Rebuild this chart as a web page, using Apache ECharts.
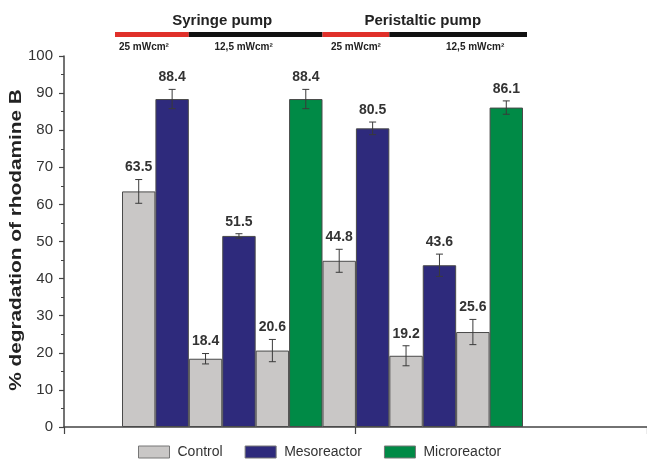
<!DOCTYPE html>
<html>
<head>
<meta charset="utf-8">
<script src="https://cdn.jsdelivr.net/npm/echarts@6/dist/echarts.min.js"></script>
<style>
  html, body { margin: 0; padding: 0; background: #ffffff; }
  #chart { width: 647px; height: 459px; }
</style>
</head>
<body>
<div id="chart"></div>
<script>
// Twelve bars, left to right: pump / irradiance / reactor
const categories = [
  'Syringe 25 Control', 'Syringe 25 Mesoreactor',
  'Syringe 12.5 Control A', 'Syringe 12.5 Mesoreactor',
  'Syringe 12.5 Control B', 'Syringe 12.5 Microreactor',
  'Peristaltic 25 Control', 'Peristaltic 25 Mesoreactor',
  'Peristaltic 12.5 Control A', 'Peristaltic 12.5 Mesoreactor',
  'Peristaltic 12.5 Control B', 'Peristaltic 12.5 Microreactor'
];

// % degradation of rhodamine B per bar (null = no bar of that kind)
const controlValues = [63.5, null, 18.4, null, 20.6, null, 44.8, null, 19.2, null, 25.6, null];
const mesoValues    = [null, 88.4, null, 51.5, null, null, null, 80.5, null, 43.6, null, null];
const microValues   = [null, null, null, null, null, 88.4, null, null, null, null, null, 86.1];

// Standard deviation for each bar
const errorValues = [3.2, 2.6, 1.4, 0.6, 3.0, 2.6, 3.1, 1.7, 2.7, 3.0, 3.4, 1.8];

// Value axis
const yMin = 0, yMax = 100, yStep = 10;

// Pump groups (bar index ranges)
const pumpNames = ['Syringe pump', 'Peristaltic pump'];
const pumpFrom  = [0, 6];
const pumpTo    = [5, 11];

// Irradiance groups (bar index ranges)
const irradianceLabels = ['25 mWcm\u00B2', '12,5 mWcm\u00B2', '25 mWcm\u00B2', '12,5 mWcm\u00B2'];
const irradianceFrom   = [0, 2, 6, 8];
const irradianceTo     = [1, 5, 7, 11];

const seriesNames = ['Control', 'Mesoreactor', 'Microreactor'];

// ---- styling ----
const FONT = '"Liberation Sans", Arial, sans-serif';
const COLORS = { control: '#c9c7c6', meso: '#2e2a7c', micro: '#008a46' };
const BAND_COLORS = { '25 mWcm\u00B2': '#e0302a', '12,5 mWcm\u00B2': '#111111' };
const barBorder = '#4a4a4a';

const frameGrid = { left: 64, right: 0, top: 56, bottom: 32 };
const barGrid   = { left: 122, right: 124, top: 56, bottom: 32 };

const barValue = categories.map((c, i) =>
  controlValues[i] != null ? controlValues[i] : (mesoValues[i] != null ? mesoValues[i] : microValues[i]));

const chart = echarts.init(document.getElementById('chart'), null, { renderer: 'canvas' });

function barSeries(name, values, color) {
  return {
    name: name,
    type: 'bar',
    xAxisIndex: 1,
    yAxisIndex: 1,
    stack: 'all',
    barWidth: '100%',
    data: values.map(v => (v == null ? '-' : v)),
    itemStyle: { color: color, borderColor: barBorder, borderWidth: 1 },
    z: 2
  };
}

const option = {
  animation: false,
  backgroundColor: '#ffffff',
  grid: [
    Object.assign({ containLabel: false }, frameGrid),
    Object.assign({ containLabel: false }, barGrid)
  ],
  xAxis: [
    {
      type: 'value', gridIndex: 0, min: 0, max: 2, interval: 1,
      axisLine: { show: true, lineStyle: { color: '#444', width: 1.5 } },
      axisTick: { show: true, length: 7, lineStyle: { color: '#444', width: 1.2 } },
      axisLabel: { show: false },
      splitLine: { show: false }
    },
    {
      type: 'category', gridIndex: 1, data: categories, boundaryGap: true,
      axisLine: { show: false }, axisTick: { show: false },
      axisLabel: { show: false }, splitLine: { show: false }
    }
  ],
  yAxis: [
    {
      type: 'value', gridIndex: 0, min: yMin, max: yMax, interval: yStep,
      axisLine: { show: true, lineStyle: { color: '#444', width: 1.5 } },
      axisTick: { show: true, length: 5, lineStyle: { color: '#444', width: 1.2 } },
      minorTick: { show: true, splitNumber: 2, length: 3, lineStyle: { color: '#444', width: 1 } },
      axisLabel: { color: '#333', fontSize: 15, fontFamily: FONT, margin: 11 },
      splitLine: { show: false }
    },
    {
      type: 'value', gridIndex: 1, min: yMin, max: yMax, interval: yStep,
      show: false, splitLine: { show: false }
    }
  ],
  legend: {
    data: seriesNames,
    left: 138,
    top: 445,
    itemWidth: 31,
    itemHeight: 12,
    itemGap: 22,
    icon: 'rect',
    padding: 0,
    itemStyle: { borderColor: '#777', borderWidth: 1 },
    textStyle: { color: '#333', fontSize: 14, fontFamily: FONT, padding: [0, 0, 0, 3] }
  },
  graphic: [
    {
      type: 'text',
      x: 17, y: 240,
      rotation: Math.PI / 2,
      scaleX: 1.3,
      style: {
        text: '% degradation of rhodamine B',
        font: 'bold 16px ' + FONT,
        fill: '#222',
        align: 'center',
        verticalAlign: 'middle'
      }
    }
  ],
  series: [
    barSeries(seriesNames[0], controlValues, COLORS.control),
    barSeries(seriesNames[1], mesoValues, COLORS.meso),
    barSeries(seriesNames[2], microValues, COLORS.micro),
    {
      // error bars with the value written above each one
      name: 'error',
      type: 'custom',
      xAxisIndex: 1,
      yAxisIndex: 1,
      z: 5,
      silent: true,
      data: categories.map((c, i) => [i, barValue[i], errorValues[i]]),
      renderItem: function (params, api) {
        const idx = api.value(0), val = api.value(1), err = api.value(2);
        const x = api.coord([idx, val])[0];
        const yTop = api.coord([idx, val + err])[1];
        const yBot = api.coord([idx, val - err])[1];
        const cap = 3.5;
        const ls = { stroke: '#3a3a3a', lineWidth: 1 };
        return {
          type: 'group',
          children: [
            { type: 'line', shape: { x1: x, y1: yTop, x2: x, y2: yBot }, style: ls },
            { type: 'line', shape: { x1: x - cap, y1: yTop, x2: x + cap, y2: yTop }, style: ls },
            { type: 'line', shape: { x1: x - cap, y1: yBot, x2: x + cap, y2: yBot }, style: ls },
            {
              type: 'text', x: x, y: yTop - 5,
              style: {
                text: val.toFixed(1), fill: '#333', font: 'bold 14px ' + FONT,
                align: 'center', verticalAlign: 'bottom'
              }
            }
          ]
        };
      }
    },
    {
      // irradiance band above the plot
      name: 'irradiance',
      type: 'custom',
      xAxisIndex: 1,
      yAxisIndex: 1,
      silent: true,
      clip: false,
      data: irradianceFrom.map((f, i) => [f, irradianceTo[i], i]),
      renderItem: function (params, api) {
        const i = api.value(2);
        const bw = api.size([1, 0])[0];
        let x0 = api.coord([api.value(0), 0])[0] - bw / 2;
        let x1 = api.coord([api.value(1), 0])[0] + bw / 2;
        if (i === 0) x0 -= 7;
        if (i === irradianceFrom.length - 1) x1 += 4;
        const top = params.coordSys.y;
        const labelShift = [-8, -12, 0, 17][i];
        const label = irradianceLabels[i];
        return {
          type: 'group',
          children: [
            { type: 'rect', shape: { x: x0, y: top - 24, width: x1 - x0, height: 5 },
              style: { fill: BAND_COLORS[label] } },
            { type: 'text', x: (x0 + x1) / 2 + labelShift, y: top - 9,
              style: { text: label, fill: '#222', font: 'bold 10px ' + FONT,
                       align: 'center', verticalAlign: 'middle' } }
          ]
        };
      }
    },
    {
      // pump titles
      name: 'pumps',
      type: 'custom',
      xAxisIndex: 1,
      yAxisIndex: 1,
      silent: true,
      clip: false,
      data: pumpFrom.map((f, i) => [f, pumpTo[i], i]),
      renderItem: function (params, api) {
        const i = api.value(2);
        const bw = api.size([1, 0])[0];
        const x0 = api.coord([api.value(0), 0])[0] - bw / 2;
        const x1 = api.coord([api.value(1), 0])[0] + bw / 2;
        return {
          type: 'text', x: (x0 + x1) / 2, y: params.coordSys.y - 35,
          style: { text: pumpNames[i], fill: '#222', font: 'bold 15px ' + FONT,
                   align: 'center', verticalAlign: 'middle' }
        };
      }
    }
  ]
};

chart.setOption(option);
</script>
</body>
</html>
